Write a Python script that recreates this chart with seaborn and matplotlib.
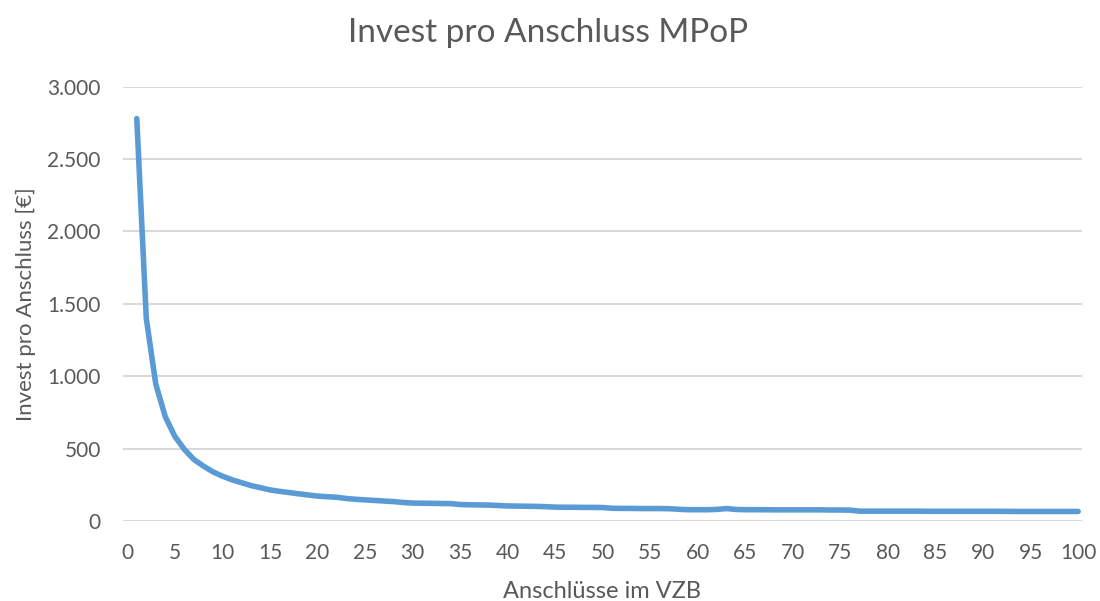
import matplotlib
matplotlib.use("Agg")
import matplotlib.pyplot as plt
import matplotlib.ticker as mticker
import seaborn as sns
import pandas as pd

# Anschlüsse im VZB (1..100) and Invest pro Anschluss in EUR
anschluesse = list(range(1, 101))
invest = [
    2780, 1400, 945, 720, 585, 495, 425, 380, 340, 310,
    285, 265, 245, 230, 215, 205, 197, 188, 180, 172,
    168, 164, 156, 150, 146, 142, 138, 134, 128, 124,
    123, 122, 121, 120, 114, 112, 111, 110, 107, 104,
    103, 102, 101, 99, 96, 95, 95, 94, 94, 93,
    88, 87, 87, 86, 86, 86, 85, 81, 78, 78,
    78, 80, 86, 80, 78, 78, 78, 77, 77, 77,
    77, 77, 77, 76, 76, 75, 68, 68, 68, 68,
    68, 68, 68, 67, 67, 67, 67, 67, 67, 67,
    67, 67, 66, 66, 66, 66, 66, 66, 66, 66,
]

df = pd.DataFrame({"x": anschluesse, "y": invest})

sns.set_theme(style="white")
plt.rcParams["font.family"] = ["Lato", "DejaVu Sans"]
grey = "#595959"

fig = plt.figure(figsize=(11, 6.01), dpi=100)
ax = fig.add_axes([0.1118, 0.1331, 0.8718, 0.7226])

sns.lineplot(data=df, x="x", y="y", ax=ax, color="#5B9BD5", linewidth=4,
             solid_capstyle="round", solid_joinstyle="round")

ax.set_xlim(-0.45, 100.4)
ax.set_ylim(0, 3000)
ax.set_xticks(range(0, 101, 5))
ax.set_yticks(range(0, 3001, 500))
ax.yaxis.set_major_formatter(mticker.FuncFormatter(lambda v, p: f"{int(v):,}".replace(",", ".")))
ax.yaxis.grid(True, color="#D9D9D9", linewidth=1.5)
ax.xaxis.grid(False)
for s in ax.spines.values():
    s.set_visible(False)
ax.tick_params(axis="both", length=0, labelsize=15, colors=grey)
ax.tick_params(axis="y", pad=16)
ax.tick_params(axis="x", pad=16)

ax.set_xlabel("Anschlüsse im VZB", fontsize=17, color=grey, labelpad=13)
ax.set_ylabel("Invest pro Anschluss [€]", fontsize=16, color=grey, labelpad=8)
fig.text(0.498, 0.945, "Invest pro Anschluss MPoP", ha="center", va="center",
         fontsize=24, color=grey)

fig.savefig("out.png", dpi=100)
